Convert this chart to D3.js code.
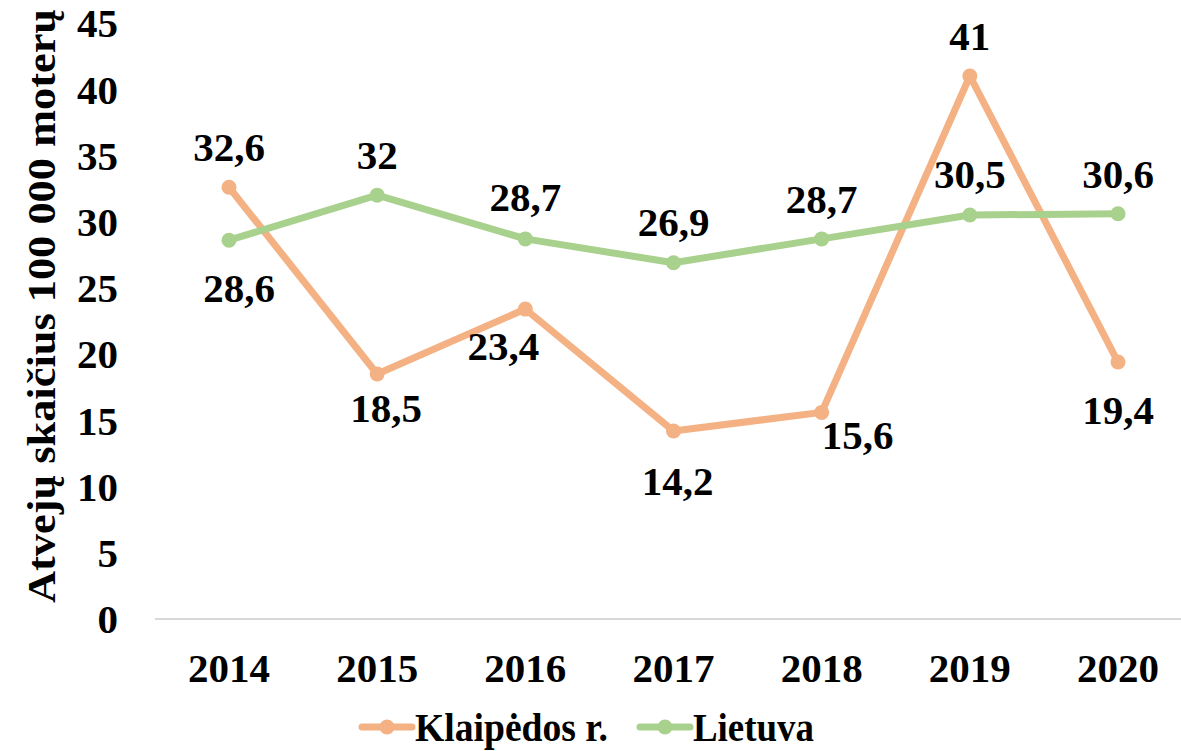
<!DOCTYPE html>
<html>
<head>
<meta charset="utf-8">
<script src="https://cdn.jsdelivr.net/npm/d3@7"></script>
<style>
  body { margin: 0; background: #fff; }
</style>
</head>
<body>
<svg id="chart" width="1181" height="751"></svg>
<script>
// data
var years = ["2014", "2015", "2016", "2017", "2018", "2019", "2020"];
var klaipeda = [32.6, 18.5, 23.4, 14.2, 15.6, 41, 19.4];
var lietuva = [28.6, 32, 28.7, 26.9, 28.7, 30.5, 30.6];
var yTicks = [0, 5, 10, 15, 20, 25, 30, 35, 40, 45];

// label placement (layout only), [dx, dy] from the point
var klaipedaLabelPos = [[0, -41], [9, 34], [-22, 37], [4, 50], [36, 22], [0, -40], [0, 48]];
var lietuvaLabelPos = [[10, 47], [0, -41], [0, -42], [0, -41], [0, -40], [0, -41], [0, -40]];

var font = "'Times New Roman', Times, 'Liberation Serif', 'DejaVu Serif', serif";
var svg = d3.select("#chart")
    .attr("font-family", font)
    .attr("font-weight", "bold");
var fs = 41;

var x = d3.scalePoint().domain(years).range([229, 1118]);
var y = d3.scaleLinear().domain([0, 45]).range([619, 23]);

// axis line
svg.append("line")
    .attr("x1", 155).attr("x2", 1181)
    .attr("y1", y(0)).attr("y2", y(0))
    .attr("stroke", "#d9d9d9").attr("stroke-width", 2);

// y tick labels
svg.selectAll(".ytick").data(yTicks).enter().append("text")
    .attr("x", 118)
    .attr("y", function(d){ return y(d); })
    .attr("dy", "0.35em")
    .attr("text-anchor", "end")
    .attr("font-size", fs)
    .text(function(d){ return d; });

// x tick labels
svg.selectAll(".xtick").data(years).enter().append("text")
    .attr("x", function(d){ return x(d); })
    .attr("y", 668)
    .attr("dy", "0.35em")
    .attr("text-anchor", "middle")
    .attr("font-size", fs)
    .text(function(d){ return d; });

// y title
svg.append("text")
    .attr("transform", "translate(41,306) rotate(-90)")
    .attr("dy", "0.35em")
    .attr("text-anchor", "middle")
    .attr("font-size", 39)
    .attr("textLength", 594)
    .attr("lengthAdjust", "spacingAndGlyphs")
    .text("Atvejų skaičius 100 000 moterų");

var series = [
    {name: "Klaipėdos r.", values: klaipeda, color: "#f4b183", pos: klaipedaLabelPos, w: 193},
    {name: "Lietuva", values: lietuva, color: "#a9d18e", pos: lietuvaLabelPos, w: 121}
];

var line = d3.line()
    .x(function(d, i){ return x(years[i]); })
    .y(function(d){ return y(d); });

series.forEach(function(s){
    svg.append("path")
        .datum(s.values)
        .attr("d", line)
        .attr("fill", "none")
        .attr("stroke", s.color)
        .attr("stroke-width", 7)
        .attr("stroke-linejoin", "round");
    svg.selectAll(null).data(s.values).enter().append("circle")
        .attr("cx", function(d, i){ return x(years[i]); })
        .attr("cy", function(d){ return y(d); })
        .attr("r", 7.5)
        .attr("fill", s.color);
});

// data labels
series.forEach(function(s){
    svg.selectAll(null).data(s.values).enter().append("text")
        .attr("x", function(d, i){ return x(years[i]) + s.pos[i][0]; })
        .attr("y", function(d, i){ return y(d) + s.pos[i][1]; })
        .attr("dy", "0.35em")
        .attr("text-anchor", "middle")
        .attr("font-size", fs)
        .text(function(d){ return String(d).replace(".", ","); });
});

// legend
var legendX = [362, 640];
series.forEach(function(s, i){
    var g = svg.append("g").attr("transform", "translate(" + legendX[i] + ",727)");
    g.append("line").attr("x1", 0).attr("x2", 50)
        .attr("stroke", s.color).attr("stroke-width", 7).attr("stroke-linecap", "round");
    g.append("circle").attr("cx", 25).attr("r", 7.5).attr("fill", s.color);
    g.append("text").attr("x", 53).attr("dy", "0.35em")
        .attr("font-size", fs)
        .attr("textLength", s.w)
        .attr("lengthAdjust", "spacingAndGlyphs")
        .text(s.name);
});
</script>
</body>
</html>
